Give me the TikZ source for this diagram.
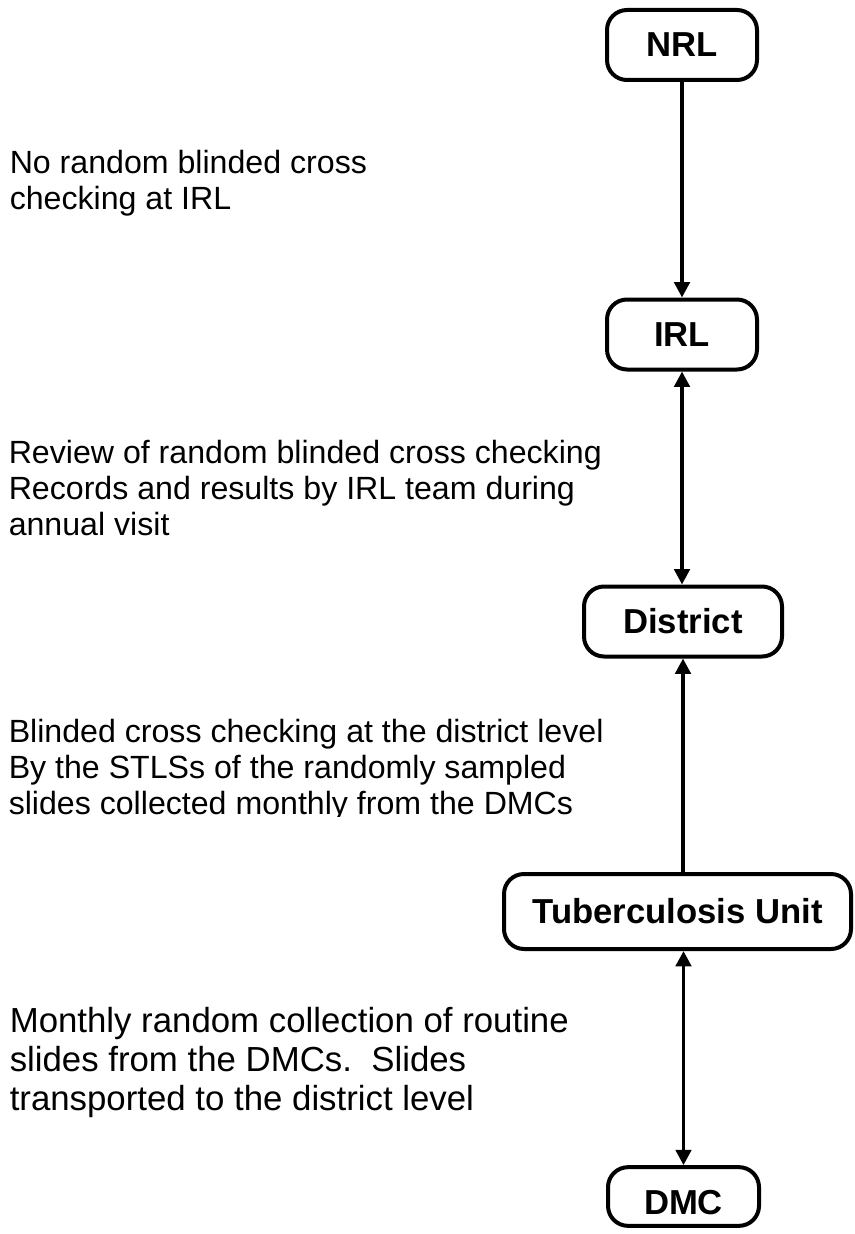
\documentclass[tikz,border=0pt]{standalone}
\usepackage{fontspec}
\setmainfont{Liberation Sans}
\usetikzlibrary{arrows.meta}
\begin{document}
\begin{tikzpicture}[x=0.75pt, y=-0.75pt,
  >={Triangle[length=11.5pt, width=11.5pt]},
  levelbox/.style={draw, line width=3pt, rounded corners=15pt, inner sep=0pt,
    font=\fontsize{26pt}{30pt}\selectfont\bfseries, minimum height=52.5pt},
  note/.style={anchor=north west, align=left, inner sep=0pt,
    font=\fontsize{24.1pt}{27pt}\selectfont},
  link/.style={line width=2.7pt}]
\useasboundingbox (0,0) rectangle (855,1234);

% laboratory levels, top to bottom
\node[levelbox, minimum width=112.5pt] (nrl) at (682,45) {NRL};
\node[levelbox, minimum width=112.5pt] (irl) at (682,334.5) {IRL};
\node[levelbox, minimum width=148.5pt] (district) at (683,621.5) {District};
\node[levelbox, minimum width=260.25pt, minimum height=56.25pt] (tu) at (677.5,911.5) {Tuberculosis Unit};
\node[levelbox, minimum width=113.25pt, minimum height=44pt, text height=27pt, text depth=0pt] (dmc) at (683.5,1196.5) {DMC};

% connectors between the levels
\draw[link,->] (nrl.south) -- (nrl.south |- irl.north);
\draw[link,<->] (irl.south) -- (irl.south |- district.north);
\draw[link,->] (tu.north -| district.south) -- (district.south);
\draw[link,<->] (tu.south -| dmc.north) -- (dmc.north);

% descriptions of each step
\node[note] (n1) at (9.5,150) {No random blinded cross\\checking at IRL};
\node[note] (n2) at (8.5,440) {Review of random blinded cross checking\\Records and results by IRL team during\\annual visit};
\begin{scope}
  \clip (0,700) rectangle (640,816);
  \node[note] (n3) at (8.5,719) {Blinded cross checking at the district level\\By the STLSs of the randomly sampled\\slides collected monthly from the DMCs};
\end{scope}
\node[note, font=\fontsize{26.1pt}{29.25pt}\selectfont] (n4) at (9.5,1007) {Monthly random collection of routine\\slides from the DMCs.\ \ Slides\\transported to the district level};
\end{tikzpicture}
\end{document}
